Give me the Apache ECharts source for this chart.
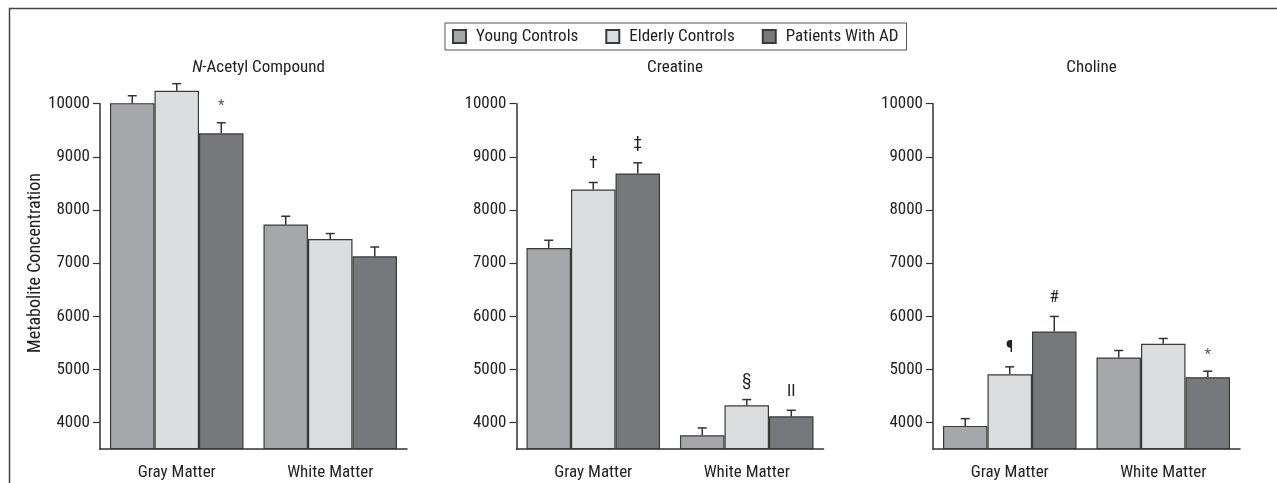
<!DOCTYPE html>
<html>
<head>
<meta charset="utf-8">
<script src="https://cdn.jsdelivr.net/npm/echarts@6/dist/echarts.min.js"></script>
<style>
html,body{margin:0;padding:0;background:#fff;}
#chart{width:1277px;height:483px;}
</style>
</head>
<body>
<div id="chart"></div>
<script>
// ---- data ----
const categories = ['Gray Matter', 'White Matter'];
const groups = ['Young Controls', 'Elderly Controls', 'Patients With AD'];
const panelTitles = ['{i|N}-Acetyl Compound', 'Creatine', 'Choline'];
const yTicks = [4000, 5000, 6000, 7000, 8000, 9000, 10000];

// mean values [Gray, White]
const naaYoung = [10010, 7727];
const naaElderly = [10245, 7455];
const naaAD = [9442, 7129];
const crYoung = [7286, 3761];
const crElderly = [8386, 4326];
const crAD = [8688, 4119];
const choYoung = [3938, 5225];
const choElderly = [4910, 5483];
const choAD = [5715, 4854];

// standard errors (upper error bar length)
const naaYoungSE = [140, 156];
const naaElderlySE = [132, 102];
const naaADSE = [200, 175];
const crYoungSE = [145, 139];
const crElderlySE = [132, 108];
const crADSE = [200, 113];
const choYoungSE = [137, 132];
const choElderlySE = [140, 100];
const choADSE = [283, 113];

// significance marks
const naaMarks = [['', ''], ['', ''], ['*', '']];
const crMarks = [['', ''], ['†', '§'], ['‡', 'II']];
const choMarks = [['', ''], ['¶', ''], ['#', '*']];

const panels = [
  { means: [naaYoung, naaElderly, naaAD], se: [naaYoungSE, naaElderlySE, naaADSE], marks: naaMarks },
  { means: [crYoung, crElderly, crAD], se: [crYoungSE, crElderlySE, crADSE], marks: crMarks },
  { means: [choYoung, choElderly, choAD], se: [choYoungSE, choElderlySE, choADSE], marks: choMarks }
];

// ---- styles ----
const colors = ['#a6a7aa', '#dcdddf', '#77787c'];
const FONT = "'Roboto Condensed', Roboto, sans-serif";
const FS = 17;
const TXT = '#222';
const GAP = 0.13;
const gridLefts = [100, 516.5, 933];
const gridWidth = 307;
const gridTop = 103.7;
const gridHeight = 345.5;

const grids = [], xAxes = [], yAxes = [], series = [], titles = [];

panels.forEach((p, pi) => {
  grids.push({ left: gridLefts[pi], top: gridTop, width: gridWidth, height: gridHeight, containLabel: false });
  xAxes.push({
    type: 'category', gridIndex: pi, data: categories,
    axisLine: { lineStyle: { color: '#333', width: 1.5 } },
    axisTick: { alignWithLabel: true, length: 8, lineStyle: { color: '#333', width: 1.5 } },
    axisLabel: { color: TXT, fontFamily: FONT, fontSize: FS, margin: 15 }
  });
  yAxes.push({
    type: 'value', gridIndex: pi, min: 3500, max: 10000, startValue: 3500,
    splitLine: { show: false },
    axisLine: { show: true, lineStyle: { color: '#333', width: 1.5 } },
    axisTick: { show: true, length: 7, customValues: yTicks, lineStyle: { color: '#333', width: 1.2 } },
    axisLabel: { color: TXT, fontFamily: FONT, fontSize: FS, margin: 10, customValues: yTicks,
      formatter: function (v) { return String(v); } }
  });
  titles.push({
    text: panelTitles[pi], left: gridLefts[pi] + gridWidth / 2, top: 54, textAlign: 'center',
    textStyle: { color: TXT, fontFamily: FONT, fontSize: FS, fontWeight: 'normal',
      rich: { i: { fontStyle: 'italic', fontFamily: FONT, fontSize: FS, color: TXT } } }
  });
  groups.forEach((g, gi) => {
    series.push({
      type: 'bar', name: g, xAxisIndex: pi, yAxisIndex: pi,
      data: p.means[gi], clip: false,
      barGap: '0%', barCategoryGap: (GAP * 100) + '%',
      itemStyle: { color: colors[gi], borderColor: '#3a3a3a', borderWidth: 1.2 },
      emphasis: { disabled: true }, z: 2
    });
  });
  groups.forEach((g, gi) => {
    const data = categories.map((c, ci) => [ci, p.means[gi][ci], p.se[gi][ci]]);
    series.push({
      type: 'custom', xAxisIndex: pi, yAxisIndex: pi, z: 5, silent: true,
      data: data,
      encode: { x: 0, y: 1 },
      renderItem: function (params, api) {
        const ci = api.value(0), m = api.value(1), se = api.value(2);
        const band = api.size([1, 0])[0];
        const bw = band * (1 - GAP) / 3;
        const b = api.coord([ci, m]);
        const t = api.coord([ci, m + se]);
        const x = b[0] + (gi - 1) * bw;
        const cap = 4.5;
        const children = [
          { type: 'line', shape: { x1: x, y1: b[1], x2: x, y2: t[1] }, style: { stroke: '#333', lineWidth: 1.5 } },
          { type: 'line', shape: { x1: x - cap, y1: t[1], x2: x + cap, y2: t[1] }, style: { stroke: '#333', lineWidth: 1.5 } }
        ];
        const mk = p.marks[gi][ci];
        if (mk) {
          const isStar = mk === '*';
          children.push({
            type: 'text',
            style: { text: mk, x: x, y: t[1] - (isStar ? 16 : 19), align: 'center', verticalAlign: 'middle',
              fill: isStar ? '#555' : TXT, fontFamily: FONT, fontSize: isStar ? 15 : 17 }
          });
        }
        return { type: 'group', children: children };
      }
    });
  });
});

const chart = echarts.init(document.getElementById('chart'), null, { renderer: 'canvas' });
chart.setOption({
  animation: false,
  backgroundColor: '#fff',
  title: titles,
  legend: {
    data: groups, left: 445, top: 23, orient: 'horizontal',
    itemWidth: 13, itemHeight: 13, itemGap: 27,
    padding: [5, 8, 5, 7],
    borderColor: '#555', borderWidth: 1,
    icon: 'rect',
    textStyle: { color: TXT, fontFamily: FONT, fontSize: FS, padding: [0, 0, 0, 5] },
    selectedMode: false
  },
  grid: grids, xAxis: xAxes, yAxis: yAxes, series: series,
  graphic: [
    { type: 'rect', shape: { x: 9.5, y: 8.5, width: 1400, height: 600 }, style: { fill: 'none', stroke: '#444', lineWidth: 1.5 }, silent: true },
    { type: 'text', x: 35, y: 263, rotation: Math.PI / 2,
      style: { text: 'Metabolite Concentration', align: 'center', verticalAlign: 'middle', fill: TXT, fontFamily: FONT, fontSize: 18 } }
  ]
});
</script>
</body>
</html>
